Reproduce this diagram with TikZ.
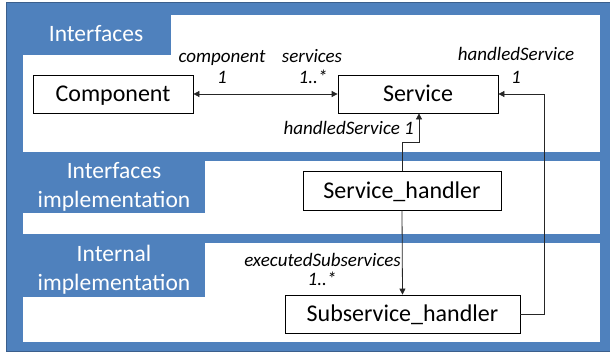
\documentclass[tikz,border=0pt]{standalone}
\usepackage{fontspec}
\setmainfont{Carlito}
\usetikzlibrary{arrows.meta}
\definecolor{panelblue}{HTML}{4F81BD}
\definecolor{frameblue}{HTML}{3B5F8C}
\tikzset{
  layer/.style={fill=white, draw=none},
  tab/.style={fill=panelblue, draw=none},
  tabtext/.style={text=white, font=\fontsize{23.5}{29}\selectfont, align=center, inner sep=0pt},
  cls/.style={draw=black, line width=0.8pt, fill=white, font=\fontsize{24}{28}\selectfont,
    inner sep=0pt, text height=15.2pt, text depth=0pt},
  role/.style={font=\itshape\fontsize{19}{22}\selectfont, inner sep=0pt, text height=12pt, text depth=0pt},
  assoc/.style={draw=black!85, line width=0.8pt},
  nav/.style={-{Triangle[length=6pt,width=6pt]}},
}
\begin{document}
\begin{tikzpicture}[x=1pt,y=-1pt]
\useasboundingbox (0,0) rectangle (610,353);
% outer frame
\fill[panelblue] (6,2) rectangle (612,352);
\draw[frameblue, line width=1.5pt] (612,2.5) -- (6.5,2.5) -- (6.5,351.5) -- (612,351.5);
% white layers
\fill[layer] (23,15) rectangle (600,152);
\fill[layer] (23,161) rectangle (600,234);
\fill[layer] (23,243) rectangle (600,342);
% layer tabs
\fill[tab] (23,15) rectangle (171,55);
\fill[tab] (23,161) rectangle (205,213);
\fill[tab] (23,243) rectangle (205,297);
\node[tabtext] (t1) at (96,34) {Interfaces};
\node[tabtext] (t2) at (114,187) {Interfaces\\implementation};
\node[tabtext] (t3) at (114,270) {Internal\\implementation};
% classes
\node[cls, minimum width=160pt, minimum height=38pt] (comp) at (113,94) {Component};
\node[cls, minimum width=160pt, minimum height=38pt] (serv) at (418,94) {Service};
\node[cls, minimum width=198pt, minimum height=39pt] (sh) at (402,190.5) {Service\_handler};
\node[cls, minimum width=235pt, minimum height=38pt] (ssh) at (402.5,314) {Subservice\_handler};
% associations
\draw[assoc, {Triangle[length=6pt,width=6pt]}-{Triangle[length=6pt,width=6pt]}] (comp.east) -- (serv.west);
\coordinate (a1) at (sh.north);
\coordinate (a2) at (402,142);
\coordinate (a3) at (419,142);
\draw[assoc, nav] (a1) -- (a2) -- (a3) -- (serv.south -| a3);
\coordinate (b1) at (544,314);
\coordinate (b2) at (544,94);
\draw[assoc, nav] (ssh.east) -- (b1) -- (b2) -- (serv.east);
\draw[assoc, nav] (sh.south) -- (ssh.north);
% role names and multiplicities
\node[role] (r1) at (222,56.5) {component};
\node[role] (r2) at (222,78) {1};
\node[role] (r3) at (312,56.5) {services};
\node[role] (r4) at (313,78) {1..*};
\node[role, anchor=east] (r5) at (414,128) {handledService 1};
\node[role] (r6) at (516,54) {handledService};
\node[role] (r7) at (516,77) {1};
\node[role, anchor=east] (r8) at (401,260) {executedSubservices};
\node[role] (r9) at (322,279) {1..*};
\end{tikzpicture}
\end{document}
